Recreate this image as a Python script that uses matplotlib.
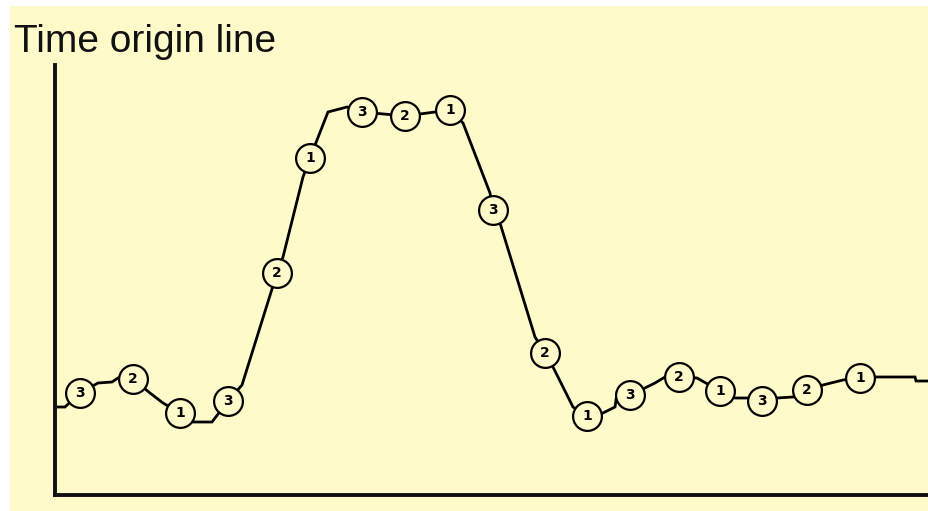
import matplotlib
matplotlib.use("Agg")
import matplotlib.pyplot as plt

# Marker positions (x = time in px from image left, y = level in image px)
times = [80, 133, 180, 228, 277, 310, 362, 405, 450, 493, 545, 587, 630, 679, 720, 762, 807, 860]
levels = [393, 379, 413, 401, 273, 158, 112, 116, 110, 210, 353, 416, 395, 377, 391, 401, 390, 378]
labels = ["3", "2", "1", "3", "2", "1", "3", "2", "1", "3", "2", "1", "3", "2", "1", "3", "2", "1"]

# Waveform trace
trace_t = [55, 65, 80, 98, 112, 118, 133, 150, 163, 180, 193, 212, 228, 242, 277, 283, 303, 310,
           317, 328, 347, 362, 405, 450, 463, 490, 493, 500, 535, 545, 553, 573, 587, 603, 615,
           617, 630, 647, 655, 665, 679, 697, 720, 735, 747, 762, 777, 793, 807, 823, 843, 860,
           875, 915, 916, 929]
trace_v = [407, 407, 393, 383, 382, 378, 379, 393, 403, 413, 422, 422, 401, 385, 273, 257, 177, 158,
           140, 112, 107, 112, 116, 110, 123, 193, 210, 223, 337, 353, 367, 407, 416, 413, 407,
           393, 395, 387, 383, 377, 377, 378, 391, 398, 398, 401, 398, 397, 390, 385, 380, 378,
           377, 377, 381, 381]
title = "Time origin line"

W, H = 929, 511
X0, Y0 = 55, 495      # origin in image pixels
YTOP = 65

BG = "#FEFAC9"

fig = plt.figure(figsize=(W / 100, H / 100), dpi=100)
fig.patch.set_facecolor("white")
bgax = fig.add_axes([10 / W, 0, 1 - 10 / W, 1 - 6 / H], zorder=-5)
bgax.axis("off")
bgax.add_patch(matplotlib.patches.Rectangle((0, 0), 1, 1, transform=bgax.transAxes,
                                            facecolor=BG, edgecolor="none"))

ax = fig.add_axes([X0 / W, (H - Y0) / H, (W - X0) / W, (Y0 - YTOP) / H], zorder=1)
ax.set_facecolor("none")
ax.set_xlim(0, W - X0)
ax.set_ylim(0, Y0 - YTOP)

xs = [t - X0 for t in trace_t]
ys = [Y0 - v for v in trace_v]
ax.plot(xs, ys, color="black", lw=2.0, zorder=2, clip_on=False, solid_joinstyle="miter")

mx = [t - X0 for t in times]
my = [Y0 - v for v in levels]
ax.scatter(mx, my, s=430, facecolor=BG, edgecolor="black", linewidths=1.6, zorder=3, clip_on=False)
for x, y, lab in zip(mx, my, labels):
    ax.text(x, y, lab, ha="center", va="center", fontsize=10, fontweight="bold",
            color="black", zorder=4)

for s in ["top", "right"]:
    ax.spines[s].set_visible(False)
for s in ["left", "bottom"]:
    ax.spines[s].set_linewidth(2.8)
    ax.spines[s].set_color("#111111")
ax.set_xticks([])
ax.set_yticks([])

fig.text(14 / W, 1 - 52 / H, title, fontsize=28, family="Liberation Sans",
         ha="left", va="baseline", color="#111111")

fig.savefig("out.png", dpi=100, facecolor=fig.get_facecolor())
